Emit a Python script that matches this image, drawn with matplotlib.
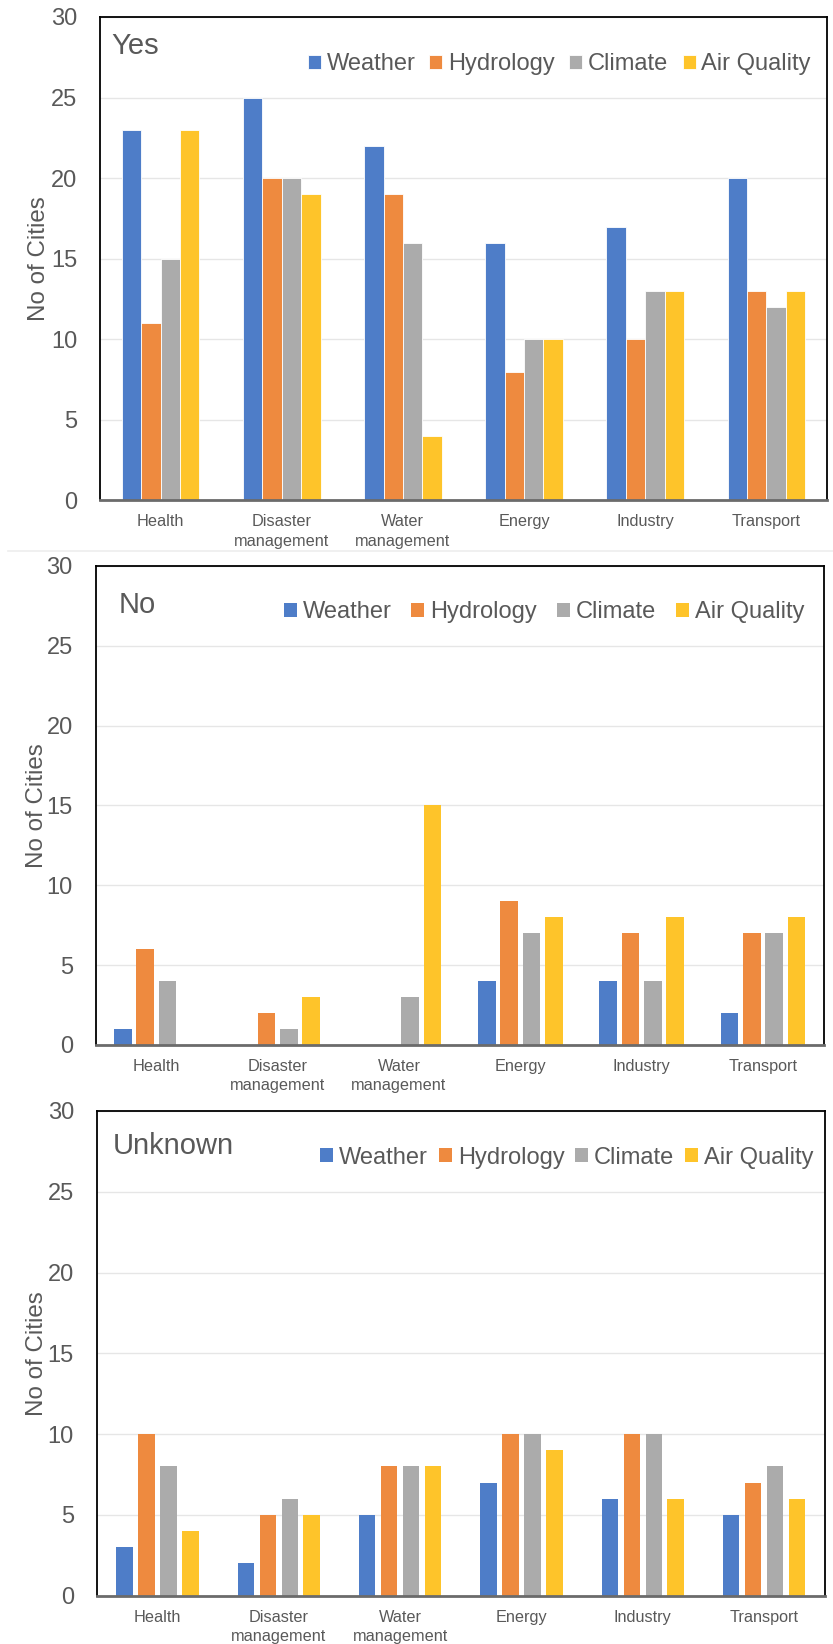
import matplotlib
matplotlib.use("Agg")
import matplotlib.pyplot as plt
from matplotlib.lines import Line2D
import numpy as np

plt.rcParams['font.family'] = ['Liberation Sans', 'DejaVu Sans']

categories = ["Health", "Disaster\nmanagement", "Water\nmanagement", "Energy", "Industry", "Transport"]
series_names = ["Weather", "Hydrology", "Climate", "Air Quality"]
colors = ["#4E7DC8", "#EE8A3F", "#ABABAB", "#FEC42A"]
yticks = [0, 5, 10, 15, 20, 25, 30]

yes_weather = [23, 25, 22, 16, 17, 20]
yes_hydrology = [11, 20, 19, 8, 10, 13]
yes_climate = [15, 20, 16, 10, 13, 12]
yes_air = [23, 19, 4, 10, 13, 13]

no_weather = [1, 0, 0, 4, 4, 2]
no_hydrology = [6, 2, 0, 9, 7, 7]
no_climate = [4, 1, 3, 7, 4, 7]
no_air = [0, 3, 15, 8, 8, 8]

unk_weather = [3, 2, 5, 7, 6, 5]
unk_hydrology = [10, 5, 8, 10, 10, 7]
unk_climate = [8, 6, 8, 10, 10, 8]
unk_air = [4, 5, 8, 9, 6, 6]

panels = [
    dict(title="Yes", data=[yes_weather, yes_hydrology, yes_climate, yes_air],
         rect=[0.12005, 0.69556, 0.8727, 0.2941], pitch=0.160, width=0.160, edge=True,
         title_xy=(0.015, 0.923), leg_xy=(0.978, 0.902), colsp=0.6, ylab_x=-0.069),
    dict(title="No", data=[no_weather, no_hydrology, no_climate, no_air],
         rect=[0.11489, 0.36436, 0.87395, 0.29136], pitch=0.184, width=0.145, edge=False,
         title_xy=(0.031, 0.9025), leg_xy=(0.974, 0.904), colsp=0.85, ylab_x=-0.066),
    dict(title="Unknown", data=[unk_weather, unk_hydrology, unk_climate, unk_air],
         rect=[0.11621, 0.02938, 0.87395, 0.29483], pitch=0.181, width=0.136, edge=False,
         title_xy=(0.022, 0.912), leg_xy=(0.984, 0.904), colsp=0.45, ylab_x=-0.067),
]

txt = "#595959"
fig = plt.figure(figsize=(8.33, 16.44), dpi=100)
x = np.arange(len(categories))

for p in panels:
    ax = fig.add_axes(p["rect"])
    handles = []
    for i, (vals, name, c) in enumerate(zip(p["data"], series_names, colors)):
        b = ax.bar(x + (i - 1.5) * p["pitch"], vals, width=p["width"], color=c,
                   edgecolor="white" if p["edge"] else c,
                   linewidth=0.6 if p["edge"] else 0, label=name, zorder=3)
        handles.append(b)
    ax.set_xlim(-0.5, len(categories) - 0.5)
    ax.set_ylim(0, 30)
    ax.set_yticks(yticks)
    ax.set_xticks(x)
    ax.set_xticklabels(categories, fontsize=11.7, color=txt, linespacing=1.35)
    ax.tick_params(axis="y", length=0, pad=16.5, labelsize=17, labelcolor=txt)
    ax.tick_params(axis="x", length=0, pad=10.0)
    ax.yaxis.grid(True, color="#E6E6E6", linewidth=1.0, zorder=0)
    ax.set_axisbelow(True)
    for s in ["top", "left", "right"]:
        ax.spines[s].set_color("black")
        ax.spines[s].set_linewidth(1.3)
    ax.spines["bottom"].set_color("#6B6B6B")
    ax.spines["bottom"].set_linewidth(2.0)
    ax.spines["bottom"].set_zorder(4)
    ax.set_ylabel("No of Cities", fontsize=17.4, color=txt)
    ax.yaxis.set_label_coords(p["ylab_x"], 0.5)
    ax.text(p["title_xy"][0], p["title_xy"][1], p["title"], transform=ax.transAxes,
            fontsize=21, color=txt, va="baseline", ha="left")
    leg = ax.legend(handles=handles, ncol=4, loc="center right",
                    bbox_to_anchor=p["leg_xy"], frameon=False, fontsize=17,
                    handlelength=0.55, handleheight=0.55, handletextpad=0.25,
                    columnspacing=p["colsp"], borderpad=0, borderaxespad=0)
    for t in leg.get_texts():
        t.set_color(txt)

fig.add_artist(Line2D([8 / 833, 1.0], [1 - 551 / 1644, 1 - 551 / 1644],
                      transform=fig.transFigure, color="#EDEDED", linewidth=1.2))

fig.savefig("out.png", dpi=100, facecolor="white")
